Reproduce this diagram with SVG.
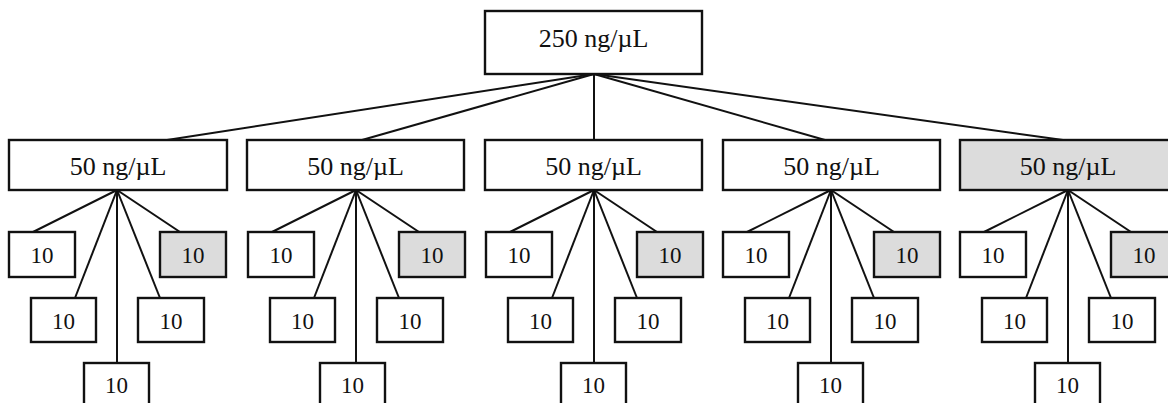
<svg xmlns="http://www.w3.org/2000/svg" width="1168" height="403" viewBox="0 0 1168 403">
<style>
.b{fill:#fff;stroke:#111;stroke-width:2.4}
.g{fill:#dcdcdc;stroke:#111;stroke-width:2.4}
.c{stroke:#111;stroke-width:2;fill:none}
.t{font-family:"Liberation Serif","Times New Roman",serif;fill:#111;text-anchor:middle}
.L{font-size:26px}
.s{font-size:23px}
</style>
<rect width="1168" height="403" fill="#fff"/>
<g id="connectors" class="c">
<line x1="594" y1="74" x2="167" y2="140"/>
<line x1="594" y1="74" x2="362" y2="140"/>
<line x1="594" y1="74" x2="594" y2="140"/>
<line x1="594" y1="74" x2="825" y2="140"/>
<line x1="594" y1="74" x2="1063" y2="140"/>
<line x1="117" y1="190" x2="33" y2="232"/><line x1="117" y1="190" x2="75" y2="298"/><line x1="117" y1="190" x2="117" y2="363"/><line x1="117" y1="190" x2="160" y2="298"/><line x1="117" y1="190" x2="180" y2="232"/>
<line x1="356" y1="190" x2="272" y2="232"/><line x1="356" y1="190" x2="314" y2="298"/><line x1="356" y1="190" x2="356" y2="363"/><line x1="356" y1="190" x2="399" y2="298"/><line x1="356" y1="190" x2="419" y2="232"/>
<line x1="594" y1="190" x2="510" y2="232"/><line x1="594" y1="190" x2="552" y2="298"/><line x1="594" y1="190" x2="594" y2="363"/><line x1="594" y1="190" x2="637" y2="298"/><line x1="594" y1="190" x2="657" y2="232"/>
<line x1="831" y1="190" x2="747" y2="232"/><line x1="831" y1="190" x2="789" y2="298"/><line x1="831" y1="190" x2="831" y2="363"/><line x1="831" y1="190" x2="874" y2="298"/><line x1="831" y1="190" x2="894" y2="232"/>
<line x1="1068" y1="190" x2="984" y2="232"/><line x1="1068" y1="190" x2="1026" y2="298"/><line x1="1068" y1="190" x2="1068" y2="363"/><line x1="1068" y1="190" x2="1111" y2="298"/><line x1="1068" y1="190" x2="1131" y2="232"/>
</g>
<g id="root"><rect class="b" x="485" y="11" width="217" height="63"/><text class="t L" x="593.5" y="47">250 ng/µL</text></g>
<g id="n1"><rect class="b" x="9" y="140" width="218" height="50"/><text class="t L" x="118" y="175">50 ng/µL</text></g>
<g id="n2"><rect class="b" x="247" y="140" width="217" height="50"/><text class="t L" x="355.5" y="175">50 ng/µL</text></g>
<g id="n3"><rect class="b" x="485" y="140" width="217" height="50"/><text class="t L" x="593.5" y="175">50 ng/µL</text></g>
<g id="n4"><rect class="b" x="723" y="140" width="217" height="50"/><text class="t L" x="831.5" y="175">50 ng/µL</text></g>
<g id="n5"><rect class="g" x="960" y="140" width="218" height="50"/><text class="t L" x="1068" y="175">50 ng/µL</text></g>

<g id="n1a"><rect class="b" x="9" y="232" width="66" height="45"/><text class="t s" x="42" y="263">10</text></g>
<g id="n1b"><rect class="b" x="31" y="298" width="65" height="44"/><text class="t s" x="63.5" y="329">10</text></g>
<g id="n1c"><rect class="b" x="84" y="363" width="65" height="50"/><text class="t s" x="116.5" y="393">10</text></g>
<g id="n1d"><rect class="b" x="138" y="298" width="66" height="44"/><text class="t s" x="171" y="329">10</text></g>
<g id="n1e"><rect class="g" x="160" y="232" width="66" height="45"/><text class="t s" x="193" y="263">10</text></g>

<g id="n2a"><rect class="b" x="248" y="232" width="66" height="45"/><text class="t s" x="281" y="263">10</text></g>
<g id="n2b"><rect class="b" x="270" y="298" width="65" height="44"/><text class="t s" x="302.5" y="329">10</text></g>
<g id="n2c"><rect class="b" x="320" y="363" width="65" height="50"/><text class="t s" x="352.5" y="393">10</text></g>
<g id="n2d"><rect class="b" x="377" y="298" width="66" height="44"/><text class="t s" x="410" y="329">10</text></g>
<g id="n2e"><rect class="g" x="399" y="232" width="66" height="45"/><text class="t s" x="432" y="263">10</text></g>

<g id="n3a"><rect class="b" x="486" y="232" width="66" height="45"/><text class="t s" x="519" y="263">10</text></g>
<g id="n3b"><rect class="b" x="508" y="298" width="65" height="44"/><text class="t s" x="540.5" y="329">10</text></g>
<g id="n3c"><rect class="b" x="561" y="363" width="65" height="50"/><text class="t s" x="593.5" y="393">10</text></g>
<g id="n3d"><rect class="b" x="615" y="298" width="66" height="44"/><text class="t s" x="648" y="329">10</text></g>
<g id="n3e"><rect class="g" x="637" y="232" width="66" height="45"/><text class="t s" x="670" y="263">10</text></g>

<g id="n4a"><rect class="b" x="723" y="232" width="66" height="45"/><text class="t s" x="756" y="263">10</text></g>
<g id="n4b"><rect class="b" x="745" y="298" width="65" height="44"/><text class="t s" x="777.5" y="329">10</text></g>
<g id="n4c"><rect class="b" x="798" y="363" width="65" height="50"/><text class="t s" x="830.5" y="393">10</text></g>
<g id="n4d"><rect class="b" x="852" y="298" width="66" height="44"/><text class="t s" x="885" y="329">10</text></g>
<g id="n4e"><rect class="g" x="874" y="232" width="66" height="45"/><text class="t s" x="907" y="263">10</text></g>

<g id="n5a"><rect class="b" x="960" y="232" width="66" height="45"/><text class="t s" x="993" y="263">10</text></g>
<g id="n5b"><rect class="b" x="982" y="298" width="65" height="44"/><text class="t s" x="1014.5" y="329">10</text></g>
<g id="n5c"><rect class="b" x="1035" y="363" width="65" height="50"/><text class="t s" x="1067.5" y="393">10</text></g>
<g id="n5d"><rect class="b" x="1089" y="298" width="66" height="44"/><text class="t s" x="1122" y="329">10</text></g>
<g id="n5e"><rect class="g" x="1111" y="232" width="66" height="45"/><text class="t s" x="1144" y="263">10</text></g>
</svg>
